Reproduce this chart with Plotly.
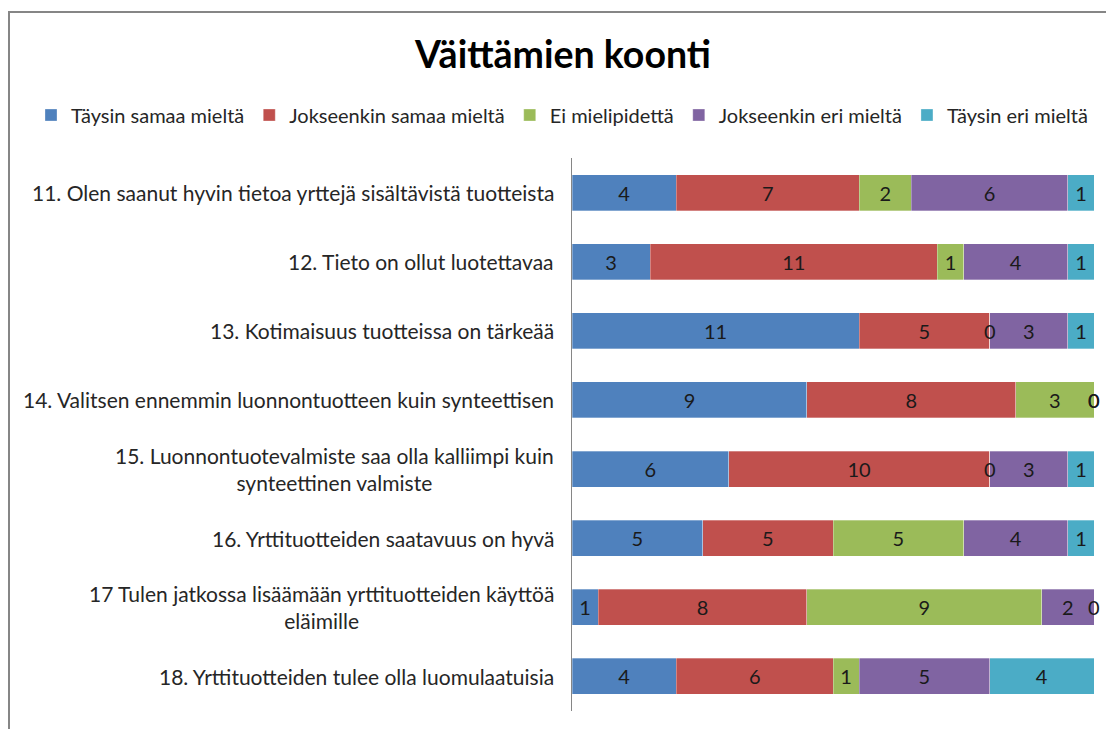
import plotly.graph_objects as go

# statements (top to bottom)
statements = [
    "11. Olen saanut hyvin tietoa yrttejä sisältävistä tuotteista",
    "12. Tieto on ollut luotettavaa",
    "13. Kotimaisuus tuotteissa on tärkeää",
    "14. Valitsen ennemmin luonnontuotteen kuin synteettisen",
    "15. Luonnontuotevalmiste saa olla kalliimpi kuin<br>synteettinen valmiste",
    "16. Yrttituotteiden saatavuus on hyvä",
    "17 Tulen jatkossa lisäämään yrttituotteiden käyttöä<br>eläimille",
    "18. Yrttituotteiden tulee olla luomulaatuisia",
]

taysin_samaa = [4, 3, 11, 9, 6, 5, 1, 4]
jokseenkin_samaa = [7, 11, 5, 8, 10, 5, 8, 6]
ei_mielipidetta = [2, 1, 0, 3, 0, 5, 9, 1]
jokseenkin_eri = [6, 4, 3, 0, 3, 4, 2, 5]
taysin_eri = [1, 1, 1, 0, 1, 1, 0, 4]

series = [
    ("Täysin samaa mieltä", taysin_samaa, "#4F81BD"),
    ("Jokseenkin samaa mieltä", jokseenkin_samaa, "#C0504D"),
    ("Ei mielipidettä", ei_mielipidetta, "#9BBB59"),
    ("Jokseenkin eri mieltä", jokseenkin_eri, "#8064A2"),
    ("Täysin eri mieltä", taysin_eri, "#4BACC6"),
]

FONT = "Lato, Calibri, sans-serif"
ml, mr, mt, mb = 572, 12, 158, 18
W, H = 1106, 729
pw, ph = W - ml - mr, H - mt - mb

fig = go.Figure()
annotations = []
cum = [0] * len(statements)
for name, vals, col in series:
    fig.add_trace(go.Bar(
        y=statements, x=vals, name=name, orientation="h",
        marker=dict(color=col, line=dict(color="rgba(255,255,255,0.6)", width=0.5)),
        text=[str(v) if v else "" for v in vals],
        textposition="inside", insidetextanchor="middle", constraintext="none",
        textfont=dict(family=FONT, size=20, color="#1a1a1a"),
        hoverinfo="x+name",
    ))
    # zero values get their label at the stack boundary, like Excel does
    for i, v in enumerate(vals):
        cum[i] += v
        if v == 0:
            annotations.append(dict(x=cum[i], y=statements[i], xref="x", yref="y",
                                    text="0", showarrow=False,
                                    font=dict(family=FONT, size=20, color="#1a1a1a")))

# category labels, centred multi-line like the original
for s in statements:
    annotations.append(dict(x=0, y=s, xref="paper", yref="y", text=s, showarrow=False,
                            xanchor="right", align="center", xshift=-16,
                            font=dict(family=FONT, size=21, color="#262626")))

fig.update_layout(
    width=W, height=H, barmode="stack", bargap=0.48,
    margin=dict(l=ml, r=mr, t=mt, b=mb, autoexpand=False),
    plot_bgcolor="white", paper_bgcolor="white",
    font=dict(family=FONT, color="#262626"),
    title=dict(text="<b>Väittämien koonti</b>", xref="container", yref="container",
               x=0.509, y=1 - 55 / H, xanchor="center", yanchor="middle",
               font=dict(family=FONT, size=37.5, color="black")),
    legend=dict(orientation="h", xref="paper", yref="paper",
                x=(31 - ml) / pw, y=((H - mb) - 115) / ph, xanchor="left", yanchor="middle",
                font=dict(family=FONT, size=20, color="#262626"),
                itemwidth=30, traceorder="normal", tracegroupgap=0),
    xaxis=dict(range=[0, 20], visible=False, fixedrange=True),
    yaxis=dict(autorange="reversed", showticklabels=False, ticks="",
               showline=True, linecolor="#868686", linewidth=1, showgrid=False),
    annotations=annotations,
    showlegend=True,
)

# outer chart frame (extends past the right and bottom of the picture)
fig.add_shape(type="rect", xref="paper", yref="paper",
              x0=(9 - ml) / pw, x1=(W + 20 - ml) / pw,
              y0=-(H + 20 - (H - mb)) / ph, y1=((H - mb) - 12) / ph,
              line=dict(color="#868686", width=2), layer="below")

fig.write_html("out.html", config={"displayModeBar": False},
               post_script="document.body.style.margin='0';")
